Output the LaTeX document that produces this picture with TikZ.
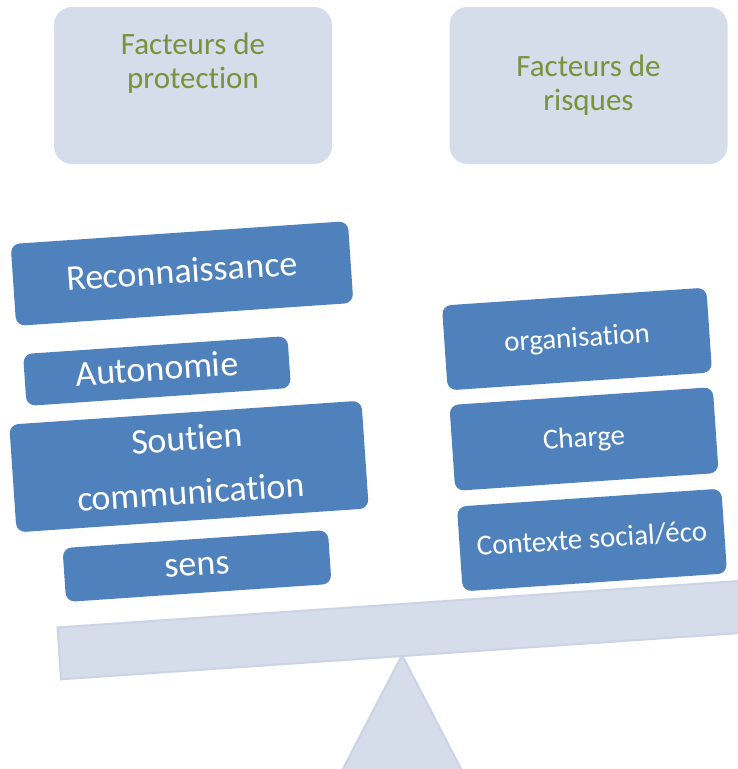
\documentclass[tikz,border=0pt]{standalone}
\usepackage{fontspec}
\setmainfont{Carlito}[Ligatures=NoCommon]
\definecolor{panel}{RGB}{213,220,234}
\definecolor{paneledge}{RGB}{203,211,229}
\definecolor{factorblue}{RGB}{79,129,189}
\definecolor{headgreen}{RGB}{119,147,60}
\begin{document}
\begin{tikzpicture}[x=1pt,y=-1pt,
  header/.style={fill=panel, rounded corners=18pt, inner sep=0pt,
    minimum width=278pt, minimum height=157pt},
  headtext/.style={text=headgreen, font=\fontsize{31}{34}\selectfont,
    align=center, inner sep=0pt},
  factor/.style={fill=factorblue, text=white, rounded corners=9pt,
    inner sep=0pt, rotate=3.9},
  bigfactor/.style={factor, font=\fontsize{36}{54}\selectfont},
  bigline/.style={bigfactor, text height=19pt, text depth=0pt},
  smallfactor/.style={factor, text height=16pt, text depth=0pt,
    font=\fontsize{29}{35}\selectfont},
  scalepart/.style={fill=panel, draw=paneledge, line width=2pt},
]
\useasboundingbox (0,0) rectangle (738,769);
\clip (0,0) rectangle (738,769);

% headers
\node[header] (protbox) at (193,85.5) {};
\node[headtext, anchor=base] (prottext) at (193,88) {Facteurs de\\protection};
\node[header] (riskbox) at (588.5,85.5) {};
\node[headtext, anchor=base] (risktext) at (588.5,110) {Facteurs de\\risques};

% fulcrum and beam
\draw[scalepart] (402,655) -- (472,790) -- (332,790) -- cycle;
\draw[scalepart, rotate around={3.9:(402,630)}]
  (58.5,604) rectangle (745.5,656);

% protective factors
\node[bigline, minimum width=338pt, minimum height=82pt]
  (reco) at (182,273.5) {Reconnaissance};
\node[bigline, minimum width=265pt, minimum height=52pt]
  (auto) at (157,371) {Autonomie};
\node[bigfactor, minimum width=353pt, minimum height=87pt]
  (soutien) at (189,466.5)
  {\begin{tabular}{@{}c@{}}Soutien\\communication\end{tabular}};
\node[bigline, minimum width=266pt, minimum height=54pt]
  (sens) at (197,566) {sens};

% risk factors
\node[smallfactor, minimum width=265pt, minimum height=85pt]
  (orga) at (577,339) {organisation};
\node[smallfactor, minimum width=264pt, minimum height=86pt]
  (charge) at (584,439) {Charge};
\node[smallfactor, minimum width=265pt, minimum height=85pt]
  (contexte) at (592,540) {Contexte social/éco};
\end{tikzpicture}
\end{document}
